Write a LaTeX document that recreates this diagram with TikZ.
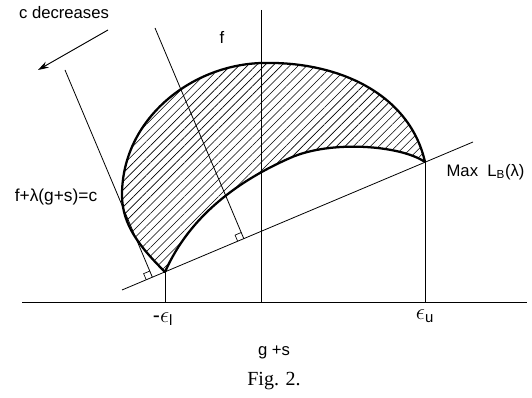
\documentclass[tikz,border=0pt]{standalone}
\usepackage{fontspec}
\setmainfont{Liberation Sans}
\newfontfamily\captionserif{Liberation Serif}
\usetikzlibrary{arrows.meta, calc, patterns.meta}

\begin{document}
\begin{tikzpicture}[
    x=0.75pt, y=-0.75pt,
    every node/.style={font=\fontsize{12.5}{14}\selectfont, inner sep=1pt},
    epslabel/.style={font=\fontsize{16}{18}\selectfont},
    axisline/.style={line width=0.7pt},
    thinline/.style={line width=0.6pt},
    boundary/.style={
        line width=1.7pt, 
        line join=round
    },
    hatched/.style={
        pattern={Lines[angle=45, distance=4.5pt, line width=0.45pt]}
    },
    rightmark/.style={line width=0.5pt},
    arrow/.style={
        line width=0.7pt, 
        -{Stealth[length=8pt, width=5pt]}
    }
]
\useasboundingbox (0,0) rectangle (532,398);

% ==================== POINTS ====================
\coordinate (eps_l) at (165,272);
\coordinate (eps_u) at (425,162);
\coordinate (tan_a) at (122,290);
\coordinate (tan_b) at (473,142);
\coordinate (h_left) at (22,302);
\coordinate (h_right) at (527,302);
\coordinate (f_top) at (261,10);
\coordinate (f_foot) at (261,302);
\coordinate (l_foot) at (165,302);
\coordinate (u_foot) at (425,302);
\coordinate (lev1_top) at (65,70);
\coordinate (lev2_top) at (155,28);
\coordinate (lev1_foot) at ($(tan_a)!(lev1_top)!(tan_b)$);
\coordinate (lev2_foot) at ($(tan_a)!(lev2_top)!(tan_b)$);
\coordinate (arr_from) at (108,30);
\coordinate (arr_to) at (38,70);

% ==================== HATCHED REGION ====================
\draw [boundary, hatched] (eps_l) .. controls (140,247) and (122,225) .. (122,195)
    .. controls (122,120) and (190,65) .. (262,63)
    .. controls (340,61) and (410,95) .. (eps_u)
    .. controls (400,145) and (330,140) .. (290,158)
    .. controls (240,180) and (190,215) .. (eps_l) -- cycle;

% ==================== AXES AND LINES ====================
\draw [axisline] (h_left) -- (h_right);
\draw [axisline] (f_top) -- (f_foot);
\draw [thinline] (eps_l) -- (l_foot);
\draw [thinline] (eps_u) -- (u_foot);
\draw [thinline] (tan_a) -- (tan_b);
\draw [thinline] (lev1_top) -- (lev1_foot);
\draw [thinline] (lev2_top) -- (lev2_foot);

% right angle marks
\foreach \k in {1,2} {
    \coordinate (m\k a) at ($(lev\k_foot)!5pt!(tan_a)$);
    \coordinate (m\k b) at ($(lev\k_foot)!5pt!(lev\k_top)$);
    \draw [rightmark] (m\k a) -- ($(m\k a)+(m\k b)-(lev\k_foot)$) -- (m\k b);
}

\draw [arrow] (arr_from) -- (arr_to);

% ==================== LABELS ====================
\node (lbl_c) at (64,13) {c decreases};
\node (lbl_f) at (222,37) {f};
\node (lbl_level) [font=\fontsize{13}{15}\selectfont] at (56,197) {f+λ(g+s)=c};
\node (lbl_max) [anchor=west] at (445,172) {Max\; L\textsubscript{B}(λ)};
\node (lbl_epsl) [epslabel] at (163,319) {-$\epsilon$\textsubscript{l}};
\node (lbl_epsu) [epslabel] at (425,316) {$\epsilon$\textsubscript{u}};
\node (lbl_gs) at (274,352) {g +s};
\node (lbl_fig) [font=\captionserif\fontsize{15}{17}\selectfont] at (274,381) {Fig. 2.};

\end{tikzpicture}
\end{document}
